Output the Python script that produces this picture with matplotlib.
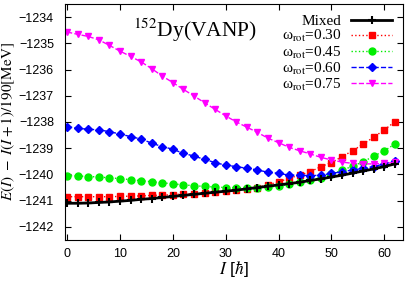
import matplotlib
matplotlib.use('Agg')
import matplotlib.pyplot as plt

plt.rcParams['font.family'] = ['Liberation Sans', 'DejaVu Sans']
plt.rcParams['mathtext.fontset'] = 'stix'

spin = list(range(0, 64, 2))

mixed = [-1241.10, -1241.10, -1241.09, -1241.07, -1241.05, -1241.02, -1240.99, -1240.95,
         -1240.92, -1240.88, -1240.84, -1240.80, -1240.76, -1240.72, -1240.68, -1240.64,
         -1240.60, -1240.55, -1240.50, -1240.45, -1240.40, -1240.35, -1240.30, -1240.23,
         -1240.17, -1240.10, -1240.03, -1239.95, -1239.87, -1239.79, -1239.70, -1239.60]
w030 = [-1240.85, -1240.85, -1240.85, -1240.85, -1240.85, -1240.84, -1240.83, -1240.82,
        -1240.80, -1240.79, -1240.77, -1240.75, -1240.73, -1240.70, -1240.67, -1240.63,
        -1240.60, -1240.55, -1240.50, -1240.40, -1240.28, -1240.15, -1240.02, -1239.90,
        -1239.70, -1239.55, -1239.32, -1239.10, -1238.84, -1238.58, -1238.30, -1237.99]
w045 = [-1240.05, -1240.06, -1240.08, -1240.10, -1240.13, -1240.16, -1240.20, -1240.24,
        -1240.28, -1240.32, -1240.36, -1240.40, -1240.43, -1240.46, -1240.48, -1240.50,
        -1240.50, -1240.50, -1240.50, -1240.48, -1240.45, -1240.38, -1240.30, -1240.22,
        -1240.12, -1239.98, -1239.85, -1239.68, -1239.52, -1239.30, -1239.10, -1238.84]
w060 = [-1238.18, -1238.24, -1238.28, -1238.30, -1238.37, -1238.46, -1238.56, -1238.65,
        -1238.81, -1238.94, -1239.04, -1239.20, -1239.30, -1239.43, -1239.55, -1239.65,
        -1239.70, -1239.77, -1239.83, -1239.92, -1239.96, -1240.03, -1240.03, -1240.05,
        -1240.03, -1239.96, -1239.90, -1239.83, -1239.77, -1239.70, -1239.60, -1239.47]
w075 = [-1234.57, -1234.66, -1234.74, -1234.87, -1235.08, -1235.30, -1235.50, -1235.71,
        -1235.97, -1236.25, -1236.50, -1236.76, -1237.01, -1237.27, -1237.52, -1237.77,
        -1238.00, -1238.20, -1238.40, -1238.62, -1238.79, -1238.97, -1239.10, -1239.22,
        -1239.35, -1239.45, -1239.53, -1239.58, -1239.60, -1239.60, -1239.58, -1239.54]

fig = plt.figure(figsize=(4.09, 2.81), dpi=100)
ax = fig.add_axes([0.159, 0.146, 0.826, 0.840])

ax.plot(spin, mixed, color='black', lw=2, marker='+', ms=6, mew=1.5, label='Mixed', zorder=5)
ax.plot(spin, w030, color='red', lw=1, ls=':', marker='s', ms=4.5, label=r'ω$_{\mathrm{rot}}$=0.30')
ax.plot(spin, w045, color='#00ee00', lw=1, ls=':', marker='o', ms=5, label=r'ω$_{\mathrm{rot}}$=0.45')
ax.plot(spin, w060, color='blue', lw=1, ls='--', marker='D', ms=4, label=r'ω$_{\mathrm{rot}}$=0.60')
ax.plot(spin, w075, color='magenta', lw=1, ls='--', marker='v', ms=5, label=r'ω$_{\mathrm{rot}}$=0.75')

ax.set_xlim(-0.4, 63.5)
ax.set_ylim(-1242.5, -1233.5)
ax.set_xticks(range(0, 61, 10))
ax.set_yticks(range(-1242, -1233))
ax.tick_params(direction='in', top=True, right=True, labelsize=9, length=4)
ax.tick_params(axis='x', pad=6)
ax.tick_params(axis='y', pad=8)

ax.text(12.4, -1234.76, r'$^{152}$Dy(VANP)', family='Liberation Serif', fontsize=15.5)

ax.set_xlabel(r'$I$ [$\hbar$]', fontsize=12.5, labelpad=-1)
ax.set_ylabel(r'$E(I)\ -\ I(I+1)/190[\mathrm{MeV}]$', fontsize=11, labelpad=1)

ax.legend(loc='upper right', frameon=False, markerfirst=False,
          prop={'family': 'Liberation Serif', 'size': 11},
          handlelength=2.7, labelspacing=0.0, borderaxespad=0.4,
          handletextpad=0.6, borderpad=0.3)

fig.savefig('out.png', dpi=100)
